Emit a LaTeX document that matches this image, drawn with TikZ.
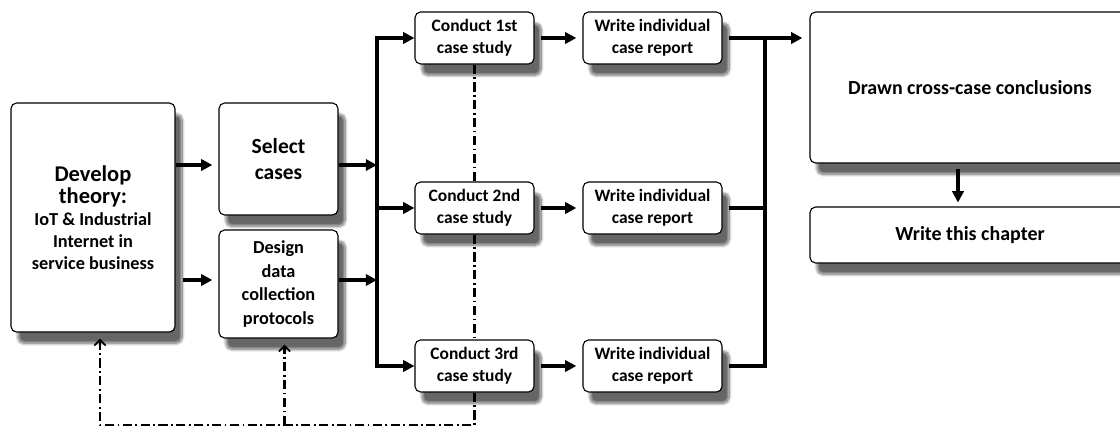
\documentclass[tikz,border=0pt]{standalone}
\usepackage{fontspec}
\setmainfont{Carlito}
\usetikzlibrary{arrows.meta,shadows.blur,calc}

\begin{document}
\begin{tikzpicture}[x=0.025cm,y=-0.025cm]
\tikzstyle{every node}=[font=\bfseries\fontsize{12.4}{15.6}\selectfont, align=center]
\tikzstyle{box}=[draw, line width=0.8pt, rounded corners=4pt, fill=white,
  blur shadow={shadow xshift=5pt, shadow yshift=-8pt, shadow blur steps=12, shadow opacity=60}]
\tikzstyle{link}=[line width=2.2pt, -{Triangle[length=8pt,width=8pt]}]
\tikzstyle{dd}=[line width=1.6pt, dash pattern=on 6.5pt off 2.5pt on 1.2pt off 2.5pt]
\tikzstyle{back}=[dd, -{Straight Barb[length=4pt,width=8pt,line width=1.2pt]}]

% fix the frame
\useasboundingbox (0,0) rectangle (1120,428);
\clip (0,0) rectangle (1120,428);

% draw boxes
\node[box, minimum width=4.1cm, minimum height=5.725cm] (dev) at (93,217.5)
  {\fontsize{16}{20.5}\selectfont Develop\\\fontsize{16}{20.5}\selectfont theory:\\
   \fontsize{13}{16.5}\selectfont IoT \& Industrial\\\fontsize{13}{16.5}\selectfont Internet in\\
   \fontsize{13}{16.5}\selectfont service business};
\node[box, minimum width=2.975cm, minimum height=2.8cm, font=\bfseries\fontsize{15.3}{18.5}\selectfont] (sel) at (278.5,159) {Select\\cases};
\node[box, minimum width=2.975cm, minimum height=2.7cm, font=\bfseries\fontsize{13}{16.7}\selectfont] (des) at (278.5,284) {Design\\data\\collection\\protocols};

\node[box, minimum width=2.975cm, minimum height=1.3cm] (c1) at (474.5,38) {Conduct 1st\\case study};
\node[box, minimum width=2.975cm, minimum height=1.3cm] (c2) at (474.5,208) {Conduct 2nd\\case study};
\node[box, minimum width=2.975cm, minimum height=1.3cm] (c3) at (474.5,366) {Conduct 3rd\\case study};

\node[box, minimum width=3.475cm, minimum height=1.3cm] (w1) at (652.5,38) {Write individual\\case report};
\node[box, minimum width=3.475cm, minimum height=1.3cm] (w2) at (652.5,208) {Write individual\\case report};
\node[box, minimum width=3.475cm, minimum height=1.3cm] (w3) at (652.5,366) {Write individual\\case report};

\node[box, minimum width=8cm, minimum height=3.775cm, font=\bfseries\fontsize{14.2}{17}\selectfont] (con) at (970,87.5) {Drawn cross-case conclusions};
\node[box, minimum width=8cm, minimum height=1.4cm, font=\bfseries\fontsize{14.2}{17}\selectfont] (chap) at (970,235) {Write this chapter};

% the two buses and the feedback line
\coordinate (bl) at (377,0);
\coordinate (br) at (765,0);
\coordinate (fb) at (0,425);
\coordinate (devin) at ($(dev.south)+(7,0)$);
\coordinate (desin) at ($(des.south)+(6,0)$);

% solid connectors
\draw[link, shorten >=4.3pt] (dev.east |- 0,165) -- (sel.west |- 0,165);
\draw[link, shorten <=5pt, shorten >=4.3pt] (dev.east |- 0,280) -- (des.west |- 0,280);
\draw[link] (sel.east |- 0,165) -- (bl |- 0,165);
\draw[link] (des.east |- 0,280) -- (bl |- 0,280);
\draw[link, {Triangle[length=8pt,width=8pt]}-{Triangle[length=8pt,width=8pt]}] (c1.west) -| (bl |- c3.west) -- (c3.west);
\draw[link] (bl |- c2.west) -- (c2.west);
\foreach \i in {1,2,3}
  \draw[link, shorten <=4.3pt, shorten >=4.3pt] (c\i.east) -- (w\i.west);
\draw[link, shorten <=4.3pt, shorten >=5pt] (w1.east) -- (w1.east -| con.west);
\draw[line width=2.2pt, shorten <=4.3pt] (w2.east) -- (w2.east -| br);
\draw[line width=2.2pt, shorten <=4.3pt] (w3.east) -| (br |- w1.east);
\draw[link, shorten <=3.5pt, shorten >=2.8pt] ($(con.south)+(-12,0)$) -- ($(chap.north)+(-12,0)$);

% dash-dot feedback lines
\draw[dd] (c1.south) -- (c2.north);
\draw[dd] (c2.south) -- (c3.north);
\draw[back, shorten >=4.3pt] (c3.south) -- (c3.south |- fb) -| (devin);
\draw[back, shorten >=4.3pt] (desin |- fb) -- (desin);

\end{tikzpicture}
\end{document}
